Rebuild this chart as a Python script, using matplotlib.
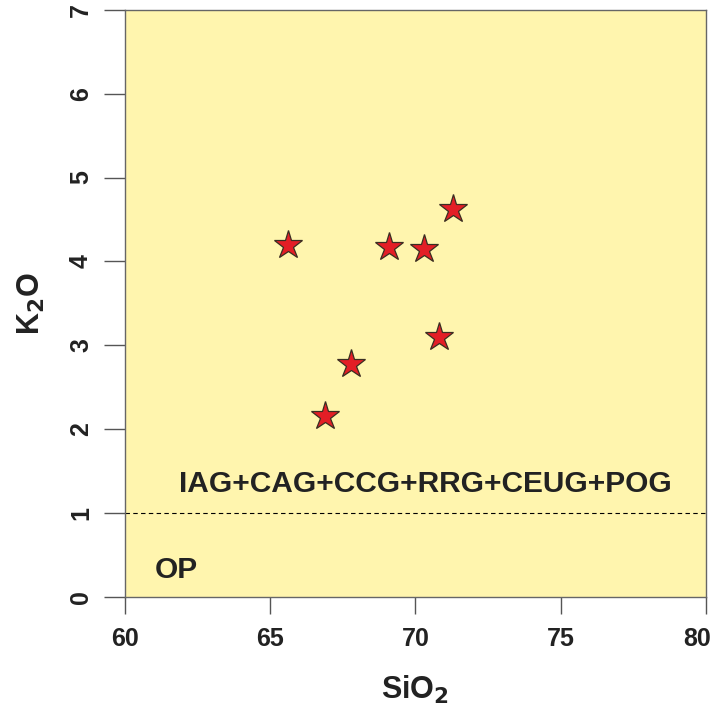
"""
Diagrama SiO2 vs K2O con campos de discriminacion tectonica
"""
import matplotlib.pyplot as plt
from matplotlib.transforms import ScaledTranslation

plt.rcParams['font.family'] = ['Liberation Sans', 'DejaVu Sans']

# Datos de las muestras
sio2 = [65.6, 69.1, 70.3, 71.3, 70.8, 67.8, 66.9]
k2o = [4.19, 4.17, 4.15, 4.62, 3.10, 2.77, 2.15]

x_ticks = [60, 65, 70, 75, 80]
y_ticks = [0, 1, 2, 3, 4, 5, 6, 7]
limite_op = 1.0

fig = plt.figure(figsize=(7.18, 7.07), dpi=100)
ax = fig.add_axes([0.174, 0.156, 0.809, 0.830])
ax.set_facecolor('#fff5ae')

ax.axhline(limite_op, color='black', linestyle=(0, (4, 3)), linewidth=0.8)
ax.plot(sio2, k2o, linestyle='none', marker='*', markersize=21,
        markerfacecolor='#e31e26', markeredgecolor='#3a2e22', markeredgewidth=0.9)

ax.text(70.36, 1.34, 'IAG+CAG+CCG+RRG+CEUG+POG', fontsize=21.5, fontweight='bold',
        ha='center', va='center', color='#222222')
ax.text(61.03, 0.32, 'OP', fontsize=21.5, fontweight='bold', ha='left', va='center',
        color='#222222')

ax.set_xlim(60, 80)
ax.set_ylim(0, 7)
ax.set_xticks(x_ticks)
ax.set_yticks(y_ticks)
ax.tick_params(axis='x', direction='out', length=12, width=1, color='#555555',
               labelsize=18, labelcolor='#222222', pad=10)
ax.tick_params(axis='y', direction='out', length=15, width=1, color='#555555',
               labelsize=18, labelcolor='#222222', pad=8, labelrotation=90)
for lab in ax.get_xticklabels() + ax.get_yticklabels():
    lab.set_fontweight('bold')
for lab in ax.get_yticklabels():
    lab.set_va('center')

# el ultimo rotulo del eje x queda un poco a la izquierda para no cortarse
ultimo = ax.get_xticklabels()[-1]
ultimo.set_transform(ultimo.get_transform() + ScaledTranslation(-6 / 72, 0, fig.dpi_scale_trans))

for spine in ax.spines.values():
    spine.set_color('#666666')
    spine.set_linewidth(1)

ax.set_xlabel('SiO$_\\mathbf{2}$', fontsize=22, fontweight='bold', labelpad=16, color='#222222')
ax.set_ylabel('K$_\\mathbf{2}$O', fontsize=22, fontweight='bold', labelpad=16, color='#222222')

plt.savefig('out.png', dpi=100)
plt.close()
